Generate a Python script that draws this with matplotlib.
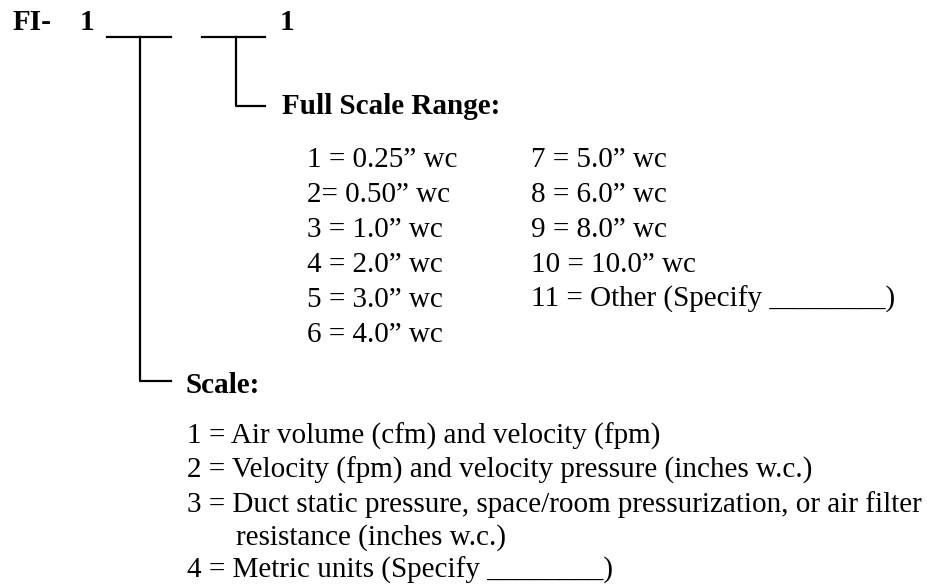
import matplotlib
matplotlib.use("Agg")
import matplotlib.pyplot as plt

# Ordering code layout: FI- 1 ___ ___ 1
code_parts = ["FI-", "1", "1"]

# Full scale range options (two columns)
range_left = ["1 = 0.25\u201d wc", "2= 0.50\u201d wc", "3 = 1.0\u201d wc",
              "4 = 2.0\u201d wc", "5 = 3.0\u201d wc", "6 = 4.0\u201d wc"]
range_right = ["7 = 5.0\u201d wc", "8 = 6.0\u201d wc", "9 = 8.0\u201d wc",
               "10 = 10.0\u201d wc", "11 = Other (Specify ________)"]

# Scale options (one line of text per entry, continuation lines indented)
scale_lines = ["1 = Air volume (cfm) and velocity (fpm)",
               "2 = Velocity (fpm) and velocity pressure (inches w.c.)",
               "3 = Duct static pressure, space/room pressurization, or air filter",
               "resistance (inches w.c.)",
               "4 = Metric units (Specify ________)"]
scale_indent = [False, False, False, True, False]

W, H = 928, 586
fig = plt.figure(figsize=(W / 100, H / 100), dpi=100)
ax = fig.add_axes([0, 0, 1, 1])
ax.set_xlim(0, W)
ax.set_ylim(H, 0)
ax.axis("off")

font = "Liberation Serif"
fs = 21
lw = 1.6

# header
ax.text(13, 30, code_parts[0], fontsize=fs, fontweight="bold", family=font, va="baseline")
ax.text(80, 30, code_parts[1], fontsize=fs, fontweight="bold", family=font, va="baseline")
ax.text(280, 30, code_parts[2], fontsize=fs, fontweight="bold", family=font, va="baseline")

# blanks and connector lines
ax.plot([107, 171], [37, 37], color="black", lw=lw)
ax.plot([202, 265], [37, 37], color="black", lw=lw)
ax.plot([236, 236, 265], [37, 106, 106], color="black", lw=lw)
ax.plot([140, 140, 171], [37, 381, 381], color="black", lw=lw)

# Full scale range section
ax.text(282, 114, "Full Scale Range:", fontsize=fs, fontweight="bold", family=font, va="baseline")
for i, s in enumerate(range_left):
    ax.text(307, 167 + 35 * i, s, fontsize=fs, family=font, va="baseline")
for i, s in enumerate(range_right):
    ax.text(531, 167 + 35 * i, s, fontsize=fs, family=font, va="baseline")

# Scale section
ax.text(186, 393, "Scale:", fontsize=fs, fontweight="bold", family=font, va="baseline")
ys = [444, 478, 512, 545, 578]
for s, ind, y in zip(scale_lines, scale_indent, ys):
    ax.text(236 if ind else 187, y, s, fontsize=fs, family=font, va="baseline")

fig.savefig("out.png", dpi=100)
